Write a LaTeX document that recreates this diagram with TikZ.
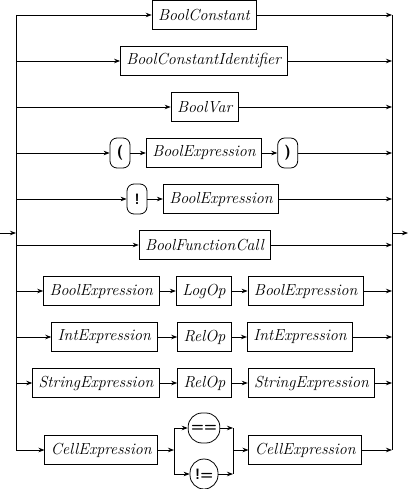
\documentclass[tikz,border=0pt]{standalone}
\usetikzlibrary{arrows.meta}

\begin{document}
\begin{tikzpicture}[x=1pt, y=-1pt, line width=0.8pt,
	nonterm/.style={draw, minimum height=29, inner xsep=6, font=\fontsize{16}{19}\selectfont\itshape},
	term/.style={draw, rounded corners=7, minimum height=30, minimum width=20, inner xsep=3, font=\fontsize{15}{18}\selectfont\sffamily\bfseries},
	opterm/.style={term, rounded corners=14, minimum width=28},
	flow/.style={-{Stealth[length=6,width=4.5]}}]
			\useasboundingbox (0,0) rectangle (408,489);

			% rails
			\coordinate (in) at (0,233);
			\coordinate (out) at (408,233);
			\coordinate (lt) at (16,15);
			\coordinate (lb) at (16,450);
			\coordinate (rt) at (392,15);
			\coordinate (rb) at (392,450);

			\draw (lt) -- (lb);
			\draw (rt) -- (rb);
			\draw[flow] (in) -- (in -| lt);
			\draw[flow] (rt |- out) -- (out);

			% first alternative
			\node[nonterm] (bc) at (204,15) {BoolConstant};
			\draw[flow] (lt) -- (bc.west);
			\draw[flow] (bc.east) -- (rt);

			% second alternative
			\node[nonterm] (bci) at (203.7,61) {BoolConstantIdentifier};
			\draw[flow] (lt |- bci) -- (bci.west);
			\draw[flow] (bci.east) -- (rt |- bci);

			% third alternative
			\node[nonterm] (bv) at (204.7,107) {BoolVar};
			\draw[flow] (lt |- bv) -- (bv.west);
			\draw[flow] (bv.east) -- (rt |- bv);

			% parenthesised
			\node[term] (lp) at (120,153) {(};
			\node[nonterm] (pbe) at (204,153) {BoolExpression};
			\node[term] (rp) at (287.7,153) {)};
			\draw[flow] (lt |- lp) -- (lp.west);
			\draw[flow] (lp.east) -- (pbe.west);
			\draw[flow] (pbe.east) -- (rp.west);
			\draw[flow] (rp.east) -- (rt |- rp);

			% negation
			\node[term] (neg) at (137,199) {!};
			\node[nonterm] (nbe) at (221,199) {BoolExpression};
			\draw[flow] (lt |- neg) -- (neg.west);
			\draw[flow] (neg.east) -- (nbe.west);
			\draw[flow] (nbe.east) -- (rt |- nbe);

			% function call
			\node[nonterm] (bfc) at (204.5,245) {BoolFunctionCall};
			\draw[flow] (lt |- bfc) -- (bfc.west);
			\draw[flow] (bfc.east) -- (rt |- bfc);

			% logical operation
			\node[nonterm] (lbe) at (101.3,291) {BoolExpression};
			\node[nonterm] (lop) at (204,291) {LogOp};
			\node[nonterm] (rbe) at (305.7,291) {BoolExpression};
			\draw[flow] (lt |- lbe) -- (lbe.west);
			\draw[flow] (lbe.east) -- (lop.west);
			\draw[flow] (lop.east) -- (rbe.west);
			\draw[flow] (rbe.east) -- (rt |- rbe);

			% integer comparison
			\node[nonterm] (lie) at (104.3,337) {IntExpression};
			\node[nonterm] (irop) at (204.5,337) {RelOp};
			\node[nonterm] (rie) at (300,337) {IntExpression};
			\draw[flow] (lt |- lie) -- (lie.west);
			\draw[flow] (lie.east) -- (irop.west);
			\draw[flow] (irop.east) -- (rie.west);
			\draw[flow] (rie.east) -- (rt |- rie);

			% string comparison
			\node[nonterm] (lse) at (96,383) {StringExpression};
			\node[nonterm] (srop) at (204.5,383) {RelOp};
			\node[nonterm] (rse) at (311.5,383) {StringExpression};
			\draw[flow] (lt |- lse) -- (lse.west);
			\draw[flow] (lse.east) -- (srop.west);
			\draw[flow] (srop.east) -- (rse.west);
			\draw[flow] (rse.east) -- (rt |- rse);

			% cell comparison
			\node[nonterm] (lce) at (101.3,450) {CellExpression};
			\node[opterm] (eq) at (204,428) {==};
			\node[opterm] (neq) at (204,474) {!=};
			\node[nonterm] (rce) at (305.3,450) {CellExpression};
			\coordinate (split) at (174,450);
			\coordinate (merge) at (233,450);

			\draw[flow] (lb) -- (lce.west);
			\draw[flow] (lce.east) -- (split);
			\draw (split |- eq) -- (split |- neq);
			\draw[flow] (split |- eq) -- (eq.west);
			\draw[flow] (split |- neq) -- (neq.west);
			\draw[flow] (eq.east) -- (merge |- eq);
			\draw[flow] (neq.east) -- (merge |- neq);
			\draw (merge |- eq) -- (merge |- neq);
			\draw[flow] (merge) -- (rce.west);
			\draw[flow] (rce.east) -- (rb);

		\end{tikzpicture}
\end{document}
